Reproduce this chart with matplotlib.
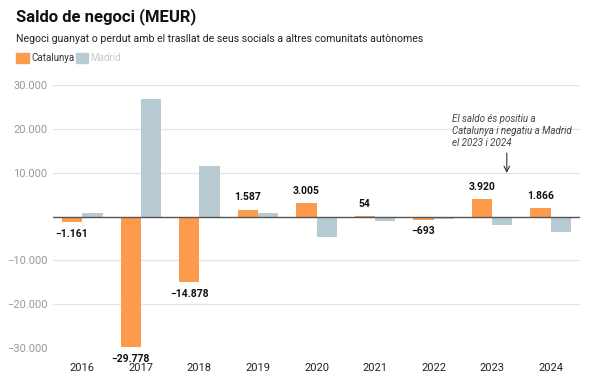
import matplotlib.pyplot as plt
import numpy as np
from matplotlib.patches import Rectangle

plt.rcParams['font.family'] = ['Roboto', 'DejaVu Sans']

years = ["2016", "2017", "2018", "2019", "2020", "2021", "2022", "2023", "2024"]
catalunya = [-1161, -29778, -14878, 1587, 3005, 54, -693, 3920, 1866]
madrid = [900, 26800, 11500, 900, -4700, -1100, -600, -2000, -3600]
yticks = [-30000, -20000, -10000, 10000, 20000, 30000]

ORANGE = "#fd9b4d"
GREY = "#b8cbd2"


def fmt(v):
    s = f"{abs(v):,}".replace(",", ".")
    return ("\u2212" + s) if v < 0 else s


W, H = 597, 388
fig = plt.figure(figsize=(W / 100, H / 100), dpi=100)
ax = fig.add_axes([53 / W, 1 - 348 / H, (580 - 53) / W, (348 - 85) / H])

x = np.arange(len(years))
bw = 0.347
ax.bar(x - bw / 2, catalunya, width=bw, color=ORANGE, zorder=2)
ax.bar(x + bw / 2, madrid, width=bw, color=GREY, zorder=2)

for xi, v in zip(x, catalunya):
    off = 5.5 if v >= 0 else -5
    ax.annotate(fmt(v), (xi - bw / 2, v), xytext=(0, off), textcoords="offset points",
                ha="center", va="bottom" if v >= 0 else "top",
                fontsize=7.5, fontweight="bold", color="#111111", annotation_clip=False)

ax.axhline(0, color="#555555", lw=1, zorder=3)
ax.set_xlim(-0.5, len(years) - 0.5)
ax.set_ylim(-30000, 30000)
ax.set_yticks(yticks)
ax.set_yticklabels([fmt(t) for t in yticks])
ax.set_xticks(x)
ax.set_xticklabels(years)
ax.tick_params(axis="y", length=0, pad=4, labelsize=8, labelcolor="#999999")
ax.tick_params(axis="x", length=0, pad=11, labelsize=8, labelcolor="#222222")
ax.grid(axis="y", color="#e3e3e3", lw=0.9, zorder=0)
for s in ax.spines.values():
    s.set_visible(False)

# annotation
ax.annotate("", xy=(7.25, 9300), xytext=(7.25, 15100),
            arrowprops=dict(arrowstyle="->", color="#333333", lw=0.8))
ax.text(6.31, 19500, "El saldo és positiu a\nCatalunya i negatiu a Madrid\nel 2023 i 2024",
        fontsize=7.0, style="italic", color="#444444", ha="left", va="center", linespacing=1.3)

# header
fig.text(16 / W, 1 - 17 / H, "Saldo de negoci (MEUR)", fontsize=12, fontweight="bold",
         color="#111111", ha="left", va="center")
fig.text(16 / W, 1 - 39 / H,
         "Negoci guanyat o perdut amb el trasllat de seus socials a altres comunitats autònomes",
         fontsize=7.6, color="#222222", ha="left", va="center")

# legend
fig.patches.append(Rectangle((16 / W, 1 - 63 / H), 13 / W, 10 / H, color=ORANGE,
                             transform=fig.transFigure, figure=fig))
fig.text(31 / W, 1 - 58 / H, "Catalunya", fontsize=7, color="#333333", ha="left", va="center")
fig.patches.append(Rectangle((76 / W, 1 - 63 / H), 12 / W, 10 / H, color=GREY,
                             transform=fig.transFigure, figure=fig))
fig.text(90 / W, 1 - 58 / H, "Madrid", fontsize=7, color="#c8c8c8", ha="left", va="center")

fig.savefig("out.png", dpi=100)
